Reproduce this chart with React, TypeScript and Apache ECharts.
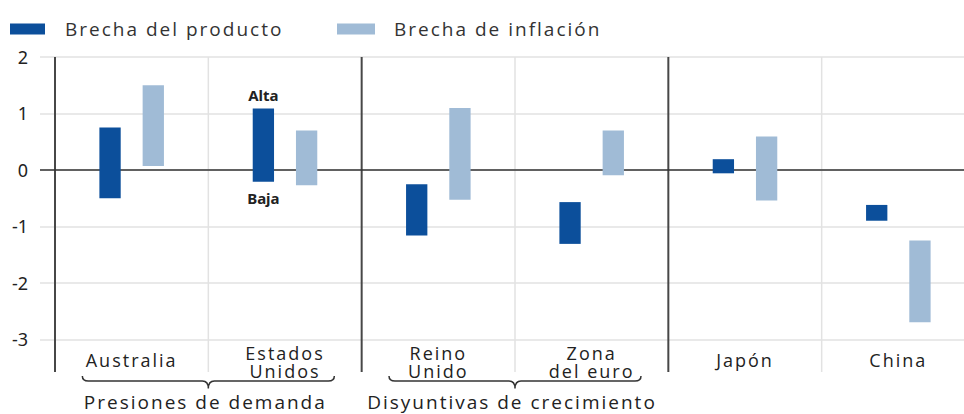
import React, { useEffect, useRef } from "react";
import * as echarts from "echarts";

const CATEGORIES = ["Australia", "Estados\nUnidos", "Reino\nUnido", "Zona\ndel euro", "Japón", "China"];
const SERIES_NAMES = ["Brecha del producto", "Brecha de inflación"];
const OUTPUT_LOW = [-0.5, -0.21, -1.16, -1.31, -0.06, -0.9];
const OUTPUT_HIGH = [0.75, 1.09, -0.255, -0.57, 0.19, -0.62];
const INFLATION_LOW = [0.07, -0.27, -0.53, -0.095, -0.54, -2.7];
const INFLATION_HIGH = [1.5, 0.7, 1.095, 0.7, 0.59, -1.25];
const Y_MIN = -3;
const Y_MAX = 2;
const Y_INTERVAL = 1;
const FRAME_BOTTOM = -3.58;
const GROUPS = [
  { label: "Presiones de demanda", from: 0, to: 1 },
  { label: "Disyuntivas de crecimiento", from: 2, to: 3 },
];
const SEPARATORS = ["dark", "light", "dark", "light", "dark", "light"];
const ANNOTATION = { index: 1, high: "Alta", low: "Baja" };

const DARK = "#0c4f9b";
const LIGHT = "#a0bbd6";
const FONT = '"Open Sans"';

function makeRange(side: number, annotate: boolean) {
  return (params: any, api: any) => {
    const i = api.value(0);
    const lo = api.coord([i, api.value(1)]);
    const hi = api.coord([i, api.value(2)]);
    const band = api.size([1, 0])[0];
    const w = band * 0.139;
    const cx = lo[0] + side * band * 0.141;
    const children: any[] = [
      {
        type: "rect",
        shape: { x: cx - w / 2, y: hi[1], width: w, height: lo[1] - hi[1] },
        style: { fill: api.visual("color") },
      },
    ];
    if (annotate && i === ANNOTATION.index) {
      children.push({
        type: "text",
        style: { text: ANNOTATION.high, x: cx, y: hi[1] - 13, align: "center", verticalAlign: "middle", font: 'bold 15px "Noto Sans"', fill: "#222" },
      });
      children.push({
        type: "text",
        style: { text: ANNOTATION.low, x: cx, y: lo[1] + 16, align: "center", verticalAlign: "middle", font: 'bold 15px "Noto Sans"', fill: "#222" },
      });
    }
    return { type: "group", children };
  };
}

export default function App() {
  const ref = useRef<HTMLDivElement>(null);
  useEffect(() => {
    document.body.style.margin = "0";
    document.body.style.overflow = "hidden";
    const chart = echarts.init(ref.current!, undefined, { renderer: "svg" });
    const catLabel = (v: string) =>
      v.includes("\n") ? v.split("\n").map((l) => `{d|${l}}`).join("\n") : `{s|${v}}`;
    const option: any = {
      animation: false,
      legend: [
        {
          data: [{ name: SERIES_NAMES[0], icon: "rect" }],
          left: 5,
          top: 14,
          itemWidth: 35,
          itemHeight: 11,
          selectedMode: false,
          textStyle: { fontFamily: FONT, fontSize: 19, color: "#333", lineHeight: 20, padding: [0, 0, 0, 15] },
        },
        {
          data: [{ name: SERIES_NAMES[1], icon: "rect" }],
          left: 332,
          top: 14,
          itemWidth: 38,
          itemHeight: 11,
          selectedMode: false,
          textStyle: { fontFamily: FONT, fontSize: 19, color: "#333", lineHeight: 20, padding: [0, 0, 0, 14] },
        },
      ],
      grid: { left: 55, top: 57, width: 920, height: 282.3 },
      xAxis: {
        type: "category",
        data: CATEGORIES,
        axisLine: { show: false },
        axisTick: { show: false },
        splitLine: { show: false },
        axisLabel: {
          interval: 0,
          margin: 5,
          verticalAlign: "top",
          formatter: catLabel,
          rich: {
            s: { fontFamily: FONT, fontSize: 18, color: "#222", lineHeight: 31 },
            d: { fontFamily: FONT, fontSize: 18, color: "#222", lineHeight: 18 },
          },
        },
      },
      yAxis: {
        type: "value",
        min: Y_MIN,
        max: Y_MAX,
        interval: Y_INTERVAL,
        axisLine: { show: false },
        axisTick: { show: true, length: 15, lineStyle: { color: "#e2e2e2", width: 1.5 } },
        splitLine: { lineStyle: { color: "#e2e2e2", width: 1.5 } },
        axisLabel: { margin: 27, fontFamily: '"Noto Sans"', fontSize: 18, color: "#222" },
      },
      series: [
        {
          type: "custom",
          name: "frame",
          z: 1,
          silent: true,
          data: [[0, 0]],
          encode: { x: 0, y: 1 },
          renderItem: (params: any, api: any) => {
            const band = api.size([1, 0])[0];
            const children: any[] = [];
            SEPARATORS.forEach((kind, b) => {
              const top = api.coord([b, Y_MAX]);
              const bottom = api.coord([b, FRAME_BOTTOM]);
              const x = top[0] - band / 2;
              children.push({
                type: "line",
                shape: { x1: x, y1: top[1], x2: x, y2: bottom[1] },
                style: { stroke: kind === "dark" ? "#474747" : "#e2e2e2", lineWidth: kind === "dark" ? 2 : 1.5 },
              });
            });
            const z0 = api.coord([0, 0]);
            const zEnd = api.coord([CATEGORIES.length - 1, 0]);
            children.push({
              type: "line",
              shape: { x1: z0[0] - band / 2 - 15, y1: z0[1], x2: zEnd[0] + band / 2, y2: z0[1] },
              style: { stroke: "#333", lineWidth: 1.5 },
            });
            return { type: "group", children };
          },
        },
        {
          type: "custom",
          name: SERIES_NAMES[0],
          z: 3,
          itemStyle: { color: DARK },
          encode: { x: 0, y: [1, 2] },
          data: CATEGORIES.map((_, i) => [i, OUTPUT_LOW[i], OUTPUT_HIGH[i]]),
          renderItem: makeRange(-1, true),
        },
        {
          type: "custom",
          name: SERIES_NAMES[1],
          z: 3,
          itemStyle: { color: LIGHT },
          encode: { x: 0, y: [1, 2] },
          data: CATEGORIES.map((_, i) => [i, INFLATION_LOW[i], INFLATION_HIGH[i]]),
          renderItem: makeRange(1, false),
        },
        {
          type: "custom",
          name: "groups",
          z: 3,
          silent: true,
          encode: { x: 0, y: 2 },
          data: GROUPS.map((g) => [g.from, g.to, 0]),
          renderItem: (params: any, api: any) => {
            const a = api.coord([api.value(0), FRAME_BOTTOM]);
            const b = api.coord([api.value(1), FRAME_BOTTOM]);
            const mid = (a[0] + b[0]) / 2;
            const half = 126;
            const L = mid - half;
            const R = mid + half;
            const y0 = a[1] + 4;
            const y1 = a[1] + 9;
            const y2 = a[1] + 16.5;
            const r = 6;
            const d = `M ${L} ${y0} Q ${L} ${y1} ${L + r} ${y1} L ${mid - r} ${y1} Q ${mid} ${y1} ${mid} ${y2} Q ${mid} ${y1} ${mid + r} ${y1} L ${R - r} ${y1} Q ${R} ${y1} ${R} ${y0}`;
            return {
              type: "group",
              children: [
                { type: "path", shape: { pathData: d }, style: { stroke: "#333", lineWidth: 1.5, fill: "none" } },
                {
                  type: "text",
                  style: {
                    text: GROUPS[params.dataIndex].label,
                    x: mid - 3,
                    y: a[1] + 30,
                    align: "center",
                    verticalAlign: "middle",
                    font: `19px ${FONT}`,
                    fill: "#222",
                  },
                },
              ],
            };
          },
        },
      ],
    };
    chart.setOption(option);
    return () => chart.dispose();
  }, []);
  return (
    <>
      <style>{'#chart text[style*="Open Sans"], #chart text[font-family*="Open Sans"] { letter-spacing: 2px; }'}</style>
      <div id="chart" ref={ref} style={{ width: 980, height: 414 }} />
    </>
  );
}
